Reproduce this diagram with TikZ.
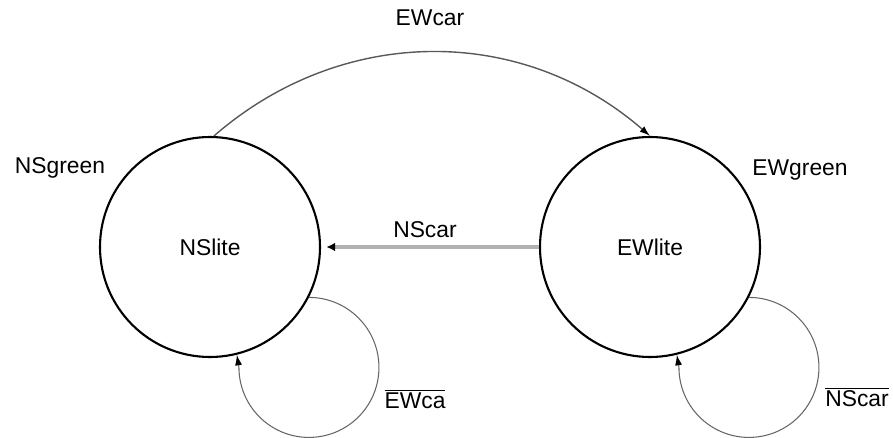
\documentclass[tikz,border=0pt]{standalone}
\usepackage{fontspec}
\setmainfont{Liberation Sans}
\usepackage{tikz}
\usetikzlibrary{positioning, arrows.meta}
\usepackage{xcolor}
\newcommand{\lbltext}{\fontsize{13}{15}\selectfont}

\begin{document}
\begin{tikzpicture}[
    lite/.style={draw=black, line width=1.2pt, circle, minimum size=4.4cm, inner sep=0pt, font=\lbltext},
    lbl/.style={font=\lbltext, inner sep=1pt},
    selfloop/.style={draw=black!60, line width=0.6pt, -{Latex[black, length=6pt, width=4pt]}}
]
    \useasboundingbox (0,0) rectangle (17.86,8.74);

    % States
    \node[lite] (NSlite) at (4.2, 3.8) {NSlite};
    \node[lite] (EWlite) at (13.0, 3.8) {EWlite};

    % Outputs of each state
    \node[lbl] (NSgreen) at (1.2, 5.38) {NSgreen};
    \node[lbl] (EWgreen) at (16.0, 5.34) {EWgreen};

    % EWcar: NSlite -> EWlite (over the top)
    \draw[draw=black!65, line width=0.8pt, -{Latex[black, length=6pt, width=4pt]}]
        (NSlite.88) to[bend left=41] (EWlite.north);
    \node[lbl] (EWcar) at (8.6, 8.38) {EWcar};

    % NScar: EWlite -> NSlite
    \draw[draw=black!30, line width=2.5pt, shorten >=3pt, -{Latex[black, length=5pt, width=5pt]}]
        (EWlite.west) -- (NSlite.east);
    \node[lbl] (NScar) at (8.5, 4.14) {NScar};

    % Self loops
    \draw[selfloop] (NSlite.-27) arc[start angle=90, end angle=-180, radius=1.4] -- (NSlite.-76);
    \node[lbl] (EWnocar) at (8.3, 0.76) {$\overline{\mbox{EWca}}$};

    \draw[selfloop] (EWlite.-27) arc[start angle=90, end angle=-180, radius=1.4] -- (EWlite.-76);
    \node[lbl] (NSnocar) at (17.14, 0.8) {$\overline{\mbox{NScar}}$};
\end{tikzpicture}
\end{document}
